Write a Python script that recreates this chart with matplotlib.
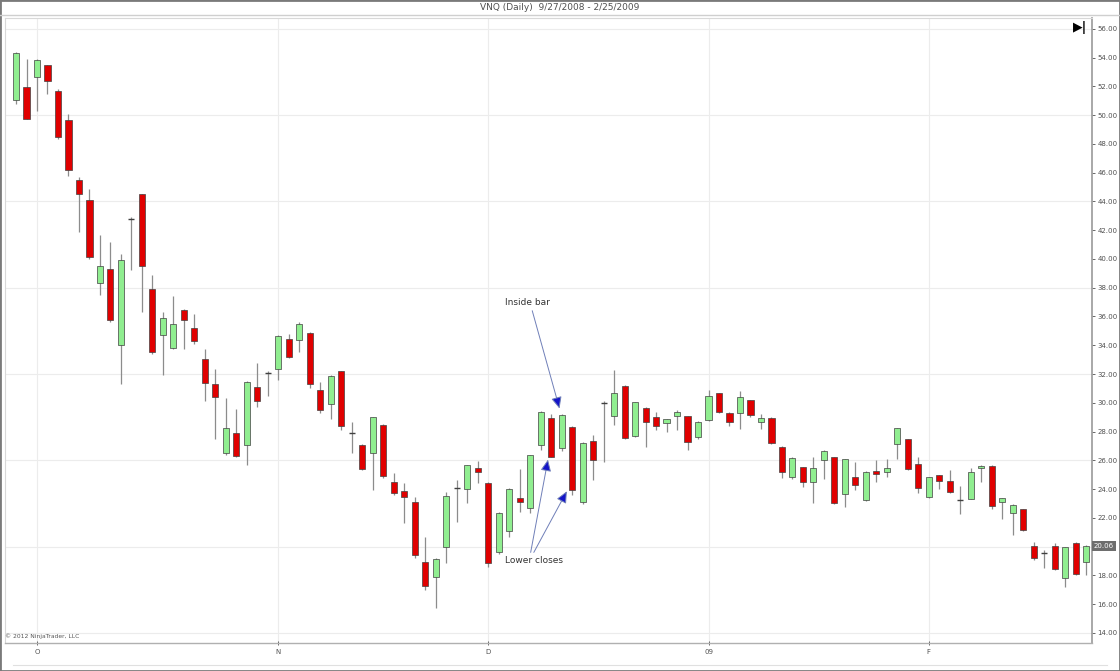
import matplotlib

matplotlib.use("Agg")
import matplotlib.pyplot as plt
from matplotlib.lines import Line2D
from matplotlib.patches import Rectangle

# Daily VNQ bars, 9/29/2008 .. 2/25/2009 (one entry per trading day)
opens = [51.06, 51.94, 52.68, 53.5, 51.7, 49.67, 45.46, 44.1, 38.35, 39.33,
         34.0, 42.78, 44.49, 37.9, 34.69, 33.84, 36.48, 35.2, 33.07, 31.29,
         26.48, 27.91, 27.06, 31.1, 32.08, 32.38, 34.46, 34.35, 34.88, 30.92,
         29.95, 32.19, 27.87, 27.06, 26.48, 28.44, 24.51, 23.86, 23.12, 18.91,
         17.91, 20.0, 24.09, 23.98, 25.48, 24.4, 19.6, 21.08, 23.4, 22.66,
         27.06, 28.91, 26.87, 28.33, 23.12, 27.33, 30.0, 29.07, 31.2, 27.68,
         29.67, 29.02, 28.6, 29.07, 29.07, 27.63, 28.79, 30.65, 29.3, 29.26,
         30.18, 28.67, 28.95, 26.94, 24.81, 25.51, 24.47, 26.01, 26.2, 23.65,
         24.85, 23.24, 25.27, 25.2, 27.13, 27.45, 25.73, 23.42, 24.97, 24.56,
         23.24, 23.31, 25.48, 25.6, 23.12, 22.35, 22.59, 20.06, 19.53, 20.06,
         17.8, 20.23, 18.91]
highs = [54.4, 53.9, 53.9, 53.5, 51.8, 50.1, 45.7, 44.88, 41.64, 41.2,
         40.37, 42.9, 44.5, 38.9, 36.3, 37.4, 36.5, 36.15, 33.77, 32.38,
         30.3, 29.6, 31.5, 32.77, 32.2, 34.7, 34.81, 35.6, 34.9, 31.45,
         31.9, 32.2, 28.67, 27.1, 29.0, 28.5, 25.13, 24.44, 23.47, 20.69,
         19.2, 23.81, 24.63, 25.7, 25.94, 24.5, 22.4, 24.05, 25.37, 26.4,
         29.4, 29.19, 29.2, 28.4, 27.25, 27.75, 30.1, 32.31, 31.25, 30.05,
         29.7, 29.37, 28.9, 29.5, 29.1, 28.7, 30.88, 30.7, 29.35, 30.81,
         30.2, 29.2, 29.0, 27.0, 26.2, 25.55, 26.24, 26.7, 26.2, 26.1,
         25.9, 25.25, 26.01, 26.06, 28.25, 27.5, 26.2, 24.85, 25.0, 25.32,
         24.21, 25.44, 25.65, 25.65, 23.4, 22.95, 22.6, 20.34, 19.76, 20.23,
         20.0, 20.3, 20.1]
lows = [50.8, 49.7, 50.3, 51.5, 48.35, 45.8, 41.87, 40.0, 37.47, 35.6,
        31.34, 39.24, 36.3, 33.4, 31.9, 33.77, 33.77, 34.1, 30.13, 27.45,
        26.4, 26.24, 25.67, 29.7, 30.5, 31.57, 33.1, 33.53, 31.06, 29.26,
        28.84, 28.1, 26.48, 25.3, 23.93, 24.8, 23.58, 21.66, 19.19, 16.99,
        15.71, 18.84, 21.73, 23.0, 24.44, 18.6, 19.5, 20.69, 22.42, 22.31,
        26.71, 26.2, 26.66, 23.58, 22.93, 24.63, 25.9, 28.44, 27.5, 27.6,
        26.9, 28.1, 27.98, 28.1, 26.7, 27.5, 28.7, 29.3, 28.4, 28.15,
        29.0, 28.2, 27.1, 24.74, 24.7, 24.16, 23.0, 24.67, 22.95, 22.77,
        23.93, 23.2, 24.51, 24.81, 26.06, 25.35, 23.7, 23.4, 23.98, 23.7,
        22.26, 23.3, 24.51, 22.59, 21.9, 20.8, 21.1, 19.1, 18.49, 18.4,
        17.17, 18.0, 18.03]
closes = [54.3, 49.74, 53.83, 52.36, 48.5, 46.15, 44.53, 40.13, 39.51, 35.78,
          39.9, 42.78, 39.49, 33.5, 35.92, 35.46, 35.74, 34.28, 31.38, 30.37,
          28.28, 26.29, 31.45, 30.11, 32.08, 34.62, 33.19, 35.5, 31.29, 29.53,
          31.85, 28.38, 27.87, 25.37, 28.98, 24.92, 23.74, 23.47, 19.42, 17.29,
          19.12, 23.51, 24.09, 25.67, 25.2, 18.89, 22.35, 24.0, 23.12, 26.34,
          29.37, 26.24, 29.14, 23.93, 27.22, 26.01, 30.0, 30.69, 27.56, 30.02,
          28.63, 28.4, 28.86, 29.37, 27.29, 28.67, 30.49, 29.33, 28.63, 30.38,
          29.14, 28.91, 27.17, 25.2, 26.17, 24.47, 25.48, 26.66, 23.0, 26.06,
          24.28, 25.2, 25.04, 25.48, 28.22, 25.39, 24.09, 24.81, 24.56, 23.77,
          23.24, 25.2, 25.62, 22.82, 23.35, 22.89, 21.15, 19.19, 19.53, 18.44,
          19.99, 18.08, 20.06]

month_pos = [2, 25, 45, 66, 87]
month_labels = ["O", "N", "D", "09", "F"]
price_ticks = list(range(14, 58, 2))
grid_levels = list(range(14, 57, 6))

UP = "#90ee90"
DOWN = "#e00000"
EDGE = "#404040"
WICK = "#8c8c8c"
GRID = "#ececec"
TXT = "#505050"

fig = plt.figure(figsize=(11.2, 6.71), dpi=100)
ax = fig.add_axes([5 / 1120, 28 / 671, 1087 / 1120, 625 / 671])

n = len(closes)
xs = list(range(n))
w = 0.58

for lv in grid_levels:
    ax.axhline(lv, color=GRID, lw=0.8, zorder=0)
for mp in month_pos:
    ax.axvline(mp, color=GRID, lw=0.8, zorder=0)

ax.vlines(xs, lows, highs, color=WICK, lw=0.9, zorder=1)
for x, o, c in zip(xs, opens, closes):
    if abs(c - o) < 1e-9:
        # doji: open == close
        ax.hlines(o, x - w / 2, x + w / 2, color=EDGE, lw=1.0, zorder=2)
        continue
    fc = UP if c > o else DOWN
    ax.add_patch(Rectangle((x - w / 2, min(o, c)), w, abs(c - o),
                           facecolor=fc, edgecolor=EDGE, lw=0.5, zorder=2))

ax.set_xlim(-1.05, 102.55)
ax.set_ylim(13.3, 56.75)

last = closes[-1]

ax.yaxis.tick_right()
ax.set_yticks(price_ticks)
# the tick label under the last-price marker is hidden by it
ax.set_yticklabels(["" if abs(p - last) < 1 else f"{p:.2f}" for p in price_ticks])
ax.tick_params(axis="y", labelsize=5, colors=TXT, length=2.5, width=0.6, pad=1.5)
ax.set_xticks(month_pos)
ax.set_xticklabels(month_labels)
ax.tick_params(axis="x", labelsize=5, colors=TXT, length=3, width=0.6,
               direction="inout", pad=2.5)

for side in ("top", "left"):
    ax.spines[side].set_color("#d8d8d8")
    ax.spines[side].set_linewidth(0.8)
ax.spines["right"].set_color("#9a9a9a")
ax.spines["bottom"].set_color("#b0b0b0")
ax.spines["right"].set_linewidth(1.2)
ax.spines["bottom"].set_linewidth(1.0)

# last price marker on the price axis
ax.text(1.0015, last, f"{last:.2f}", transform=ax.get_yaxis_transform(),
        ha="left", va="center", fontsize=5, color="white",
        bbox=dict(boxstyle="square,pad=0.3", facecolor="#6e6e6e", edgecolor="none"))

# annotations
arrow = dict(arrowstyle="-|>,head_length=0.7,head_width=0.32",
             edgecolor="#6f7fb8", facecolor="#1414c8", lw=0.7,
             shrinkA=0, shrinkB=0)
ax.text(48.7, 36.95, "Inside bar", ha="center", va="center", fontsize=6.5, color="#333333")
ax.annotate("", xy=(51.8, 29.6), xytext=(49.2, 36.4), arrowprops=arrow)
ax.text(49.4, 19.05, "Lower closes", ha="center", va="center", fontsize=6.5, color="#333333")
ax.annotate("", xy=(50.7, 26.05), xytext=(49.05, 19.6), arrowprops=arrow)
ax.annotate("", xy=(52.5, 23.85), xytext=(49.35, 19.6), arrowprops=arrow)

ax.text(0.0, 13.55, "\u00a9 2012 NinjaTrader, LLC", fontsize=4.3, color="#555555",
        ha="left", va="bottom", transform=ax.get_yaxis_transform())
ax.text(0.989, 0.995, "\u25b6|", transform=ax.transAxes, ha="center", va="top",
        fontsize=9, color="black", fontweight="bold")

fig.text(0.5, 1 - 7 / 671, "VNQ (Daily)  9/27/2008 - 2/25/2009", ha="center",
         va="center", fontsize=6.5, color=TXT)
fig.add_artist(Line2D([0, 1], [1 - 15 / 671] * 2, color="#cfcfcf", lw=1.0))
fig.add_artist(Line2D([0.012, 0.988], [1 - 665 / 671] * 2, color="#e0e0e0", lw=0.8))
fig.add_artist(Rectangle((0, 0), 1, 1, transform=fig.transFigure, fill=False,
                         edgecolor="#7a7a7a", lw=2.0))

fig.savefig("out.png", dpi=100, facecolor="white")
